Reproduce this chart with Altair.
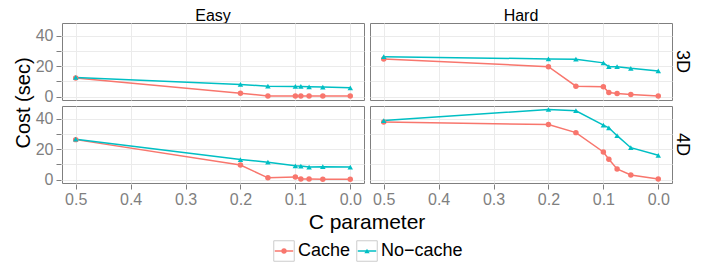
import altair as alt
import pandas as pd

C = [0.5, 0.2, 0.15, 0.1, 0.09, 0.075, 0.05, 0.0]

easy_3d_cache = [12.1, 2.1, 0.4, 0.4, 0.4, 0.3, 0.3, 0.3]
easy_3d_nocache = [12.5, 7.9, 6.8, 6.6, 6.6, 6.4, 6.2, 5.7]
hard_3d_cache = [24.7, 19.6, 6.8, 6.4, 2.6, 1.9, 1.3, 0.4]
hard_3d_nocache = [26.2, 24.7, 24.5, 22.1, 19.6, 19.6, 18.5, 16.8]
easy_4d_cache = [26.2, 9.5, 1.1, 1.7, 0.4, 0.4, 0.1, 0.1]
easy_4d_nocache = [26.5, 13.1, 11.4, 9.0, 8.8, 8.2, 8.4, 8.2]
hard_4d_cache = [37.8, 36.1, 30.8, 18.1, 13.3, 6.9, 3.0, 0.4]
hard_4d_nocache = [38.7, 46.0, 45.2, 35.7, 34.0, 28.8, 20.9, 15.9]

methods = ["Cache", "No-cache"]
method_labels = ["Cache", "No\u2212cache"]
colors = ["#F8766D", "#00BFC4"]
levels = ["Easy", "Hard"]
dims = ["3D", "4D"]

series = {
    ("Easy", "3D", "Cache"): easy_3d_cache,
    ("Easy", "3D", "No-cache"): easy_3d_nocache,
    ("Hard", "3D", "Cache"): hard_3d_cache,
    ("Hard", "3D", "No-cache"): hard_3d_nocache,
    ("Easy", "4D", "Cache"): easy_4d_cache,
    ("Easy", "4D", "No-cache"): easy_4d_nocache,
    ("Hard", "4D", "Cache"): hard_4d_cache,
    ("Hard", "4D", "No-cache"): hard_4d_nocache,
}

rows = []
for (lvl, dim, m), vals in series.items():
    for c, v in zip(C, vals):
        rows.append({"Level": lvl, "Dim": dim, "Method": m, "C": c, "Cost": v})
df = pd.DataFrame(rows)

FONT = "Liberation Sans"
GRAY = "#7F7F7F"

x_enc = alt.X(
    "C:Q",
    scale=alt.Scale(domain=[-0.025, 0.525], reverse=True, nice=False, zero=False),
    axis=alt.Axis(values=[0, 0.1, 0.2, 0.3, 0.4, 0.5], format=".1f", title=None, labelPadding=2),
)
y_enc = alt.Y(
    "Cost:Q",
    scale=alt.Scale(domain=[-2.3, 48.3], nice=False, zero=False),
    axis=alt.Axis(values=[0, 10, 20, 30, 40], title=None, labelPadding=3),
)
color_enc = alt.Color("Method:N", scale=alt.Scale(domain=methods, range=colors), legend=None)
shape_enc = alt.Shape("Method:N", scale=alt.Scale(domain=methods, range=["circle", "triangle-up"]), legend=None)

base = alt.Chart().encode(x=x_enc, y=y_enc, color=color_enc)
lines = base.mark_line(strokeWidth=1.5).encode(detail="Method:N")
points = base.mark_point(filled=True, opacity=1, size=30).encode(shape=shape_enc)

panel = alt.layer(lines, points, data=df).properties(width=302, height=77)

facet = panel.facet(
    row=alt.Row("Dim:N", title="Cost (sec)", sort=dims,
                header=alt.Header(labelOrient="right", labelAngle=90, labelFontSize=18,
                                  labelFont=FONT, labelColor="black", labelPadding=0,
                                  titleOrient="left", titleFontSize=20, titleFont=FONT,
                                  titleFontWeight="normal", titleColor="black", titlePadding=-9)),
    column=alt.Column("Level:N", title="C parameter", sort=levels,
                      header=alt.Header(labelFontSize=16, labelFont=FONT, labelColor="black",
                                        labelPadding=-2, titleOrient="bottom", titleFontSize=21,
                                        titleFont=FONT, titleFontWeight="normal",
                                        titleColor="black", titlePadding=-5)),
    spacing={"row": 4, "column": 4},
)

# manual legend (ggplot-style keys with boxes)
leg_df = pd.DataFrame({"Method": methods, "label": method_labels})
lx = alt.X("Method:N", scale=alt.Scale(type="point", domain=methods, range=[222, 305], padding=0), axis=None)
lcol = alt.Color("Method:N", scale=alt.Scale(domain=methods, range=colors), legend=None)
lbase = alt.Chart(leg_df).encode(x=lx, y=alt.value(11))
box = lbase.mark_point(shape="square", size=420, filled=False, stroke="#CCCCCC", strokeWidth=1, opacity=1)
seg = lbase.mark_point(shape="stroke", size=340, filled=False, strokeWidth=1.5, opacity=1).encode(color=lcol)
dot = lbase.mark_point(filled=True, size=28, opacity=1).encode(color=lcol, shape=shape_enc)
txt = lbase.mark_text(align="left", baseline="middle", dx=14, fontSize=18, font=FONT, color="black").encode(text="label:N")
legend = alt.layer(box, seg, dot, txt).properties(width=560, height=22, view=alt.ViewBackground(stroke="transparent"))

chart = alt.vconcat(facet, legend, spacing=5).properties(
    padding={"left": 5, "top": 0, "right": 2, "bottom": 0}
).configure_view(
    stroke=GRAY, strokeWidth=1
).configure_axis(
    labelFont=FONT, titleFont=FONT, labelFontSize=16, labelColor=GRAY,
    gridColor="#EBEBEB", gridWidth=1, domain=False,
    tickColor=GRAY, tickSize=5,
).configure_text(font=FONT)

chart.save("out.html", embed_options={"renderer": "svg", "actions": False})
